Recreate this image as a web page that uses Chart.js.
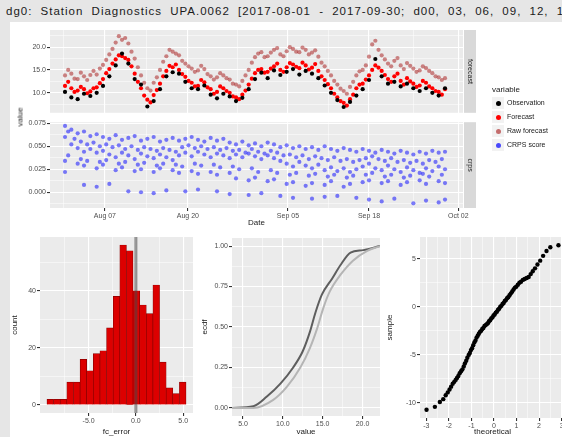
<!DOCTYPE html>
<html>
<head>
<meta charset="utf-8">
<script src="https://cdn.jsdelivr.net/npm/chart.js@4.4.1/dist/chart.umd.min.js"></script>
<style>
  body { margin: 0; width: 562px; height: 437px; overflow: hidden; position: relative;
         background: #e6e6e6; font-family: "Liberation Sans", Arial, sans-serif; }
  #sheet { position: absolute; left: 10px; top: 22px; width: 552px; height: 415px; background: #fff; }
  #title { position: absolute; left: 6px; top: 5px; font-size: 11.5px; letter-spacing: 1px; word-spacing: 4px;
           color: #1a1a1a; white-space: nowrap; }
  canvas { position: absolute; }
  #valueLab { position: absolute; left: 20px; top: 117px; font-size: 8px; color: #1a1a1a;
              transform: translate(-50%, -50%) rotate(-90deg); white-space: nowrap; }
  #legend { position: absolute; left: 492px; top: 85px; font-size: 7px; color: #1a1a1a; }
  #legend .lt { height: 10px; line-height: 10px; margin-bottom: 1px; font-size: 8px; }
  #legend .li { height: 14px; line-height: 14px; white-space: nowrap; }
  #legend .key { display: inline-block; width: 12px; height: 12px; background: #f2f2f2;
                 vertical-align: middle; position: relative; margin-right: 3px; }
  #legend .key i { position: absolute; left: 3.5px; top: 3.5px; width: 5px; height: 5px; border-radius: 2.5px; }
</style>
</head>
<body>
<div id="sheet"></div>
<div id="title">dg0: Station Diagnostics UPA.0062 [2017-08-01 - 2017-09-30; d00, 03, 06, 09, 12, 15, 18, 21]</div>
<canvas id="facetTop" width="552" height="96" style="left:10px;top:22px"></canvas>
<canvas id="facetBottom" width="552" height="111" style="left:10px;top:117px"></canvas>
<div id="valueLab">value</div>
<div id="legend">
  <div class="lt">variable</div>
  <div class="li"><span class="key"><i style="background:#000000"></i></span>Observation</div>
  <div class="li"><span class="key"><i style="background:#ff0000"></i></span>Forecast</div>
  <div class="li"><span class="key"><i style="background:rgba(165,20,20,0.6)"></i></span>Raw forecast</div>
  <div class="li"><span class="key"><i style="background:rgba(0,0,255,0.7)"></i></span>CRPS score</div>
</div>
<canvas id="histChart" width="190" height="209" style="left:10px;top:228px"></canvas>
<canvas id="ecdfChart" width="190" height="209" style="left:200px;top:228px"></canvas>
<canvas id="qqChart" width="190" height="209" style="left:385px;top:228px"></canvas>

<script>
// time axis: day index from 2017-08-01
const dateTickDays = [6.3, 19.4, 35.2, 48.0, 62.1];
const dateTickLabels = ['Aug 07', 'Aug 20', 'Sep 05', 'Sep 18', 'Oct 02'];

// observations, one per day
const observation = [
  10.2, 9.0, 8.6, 9.8, 9.3, 10.0, 11.5, 13.6, 16.0, 18.6,
  16.4, 13.0, 11.8, 7.0, 8.2, 10.8, 13.6, 14.5, 14.2, 12.4,
  11.0, 10.8, 11.6, 9.6, 8.8, 9.8, 9.2, 8.2, 8.9, 10.8,
  13.0, 14.4, 13.2, 14.9, 13.9, 14.6, 15.2, 14.0, 14.8, 14.2,
  13.2, 11.6, 10.0, 8.4, 6.9, 8.0, 9.4, 10.8, 12.8, 17.4,
  13.6, 12.0, 12.4, 11.4, 12.0, 11.0, 10.4, 11.0, 10.0, 9.4, 11.0
];

// forecasts, two per day
const forecast = [
  11.5, 12.4, 11.0, 10.2, 10.5, 11.3, 10.8, 9.9, 10.3, 11.0,
  11.2, 12.1, 13.0, 14.3, 15.2, 16.4, 17.3, 18.2, 18.0, 17.6,
  17.2, 15.8, 14.2, 12.4, 11.0, 9.4, 8.5, 7.9, 9.5, 10.6,
  12.0, 13.6, 14.8, 15.9, 15.6, 16.2, 15.0, 14.1, 13.5, 12.6,
  12.2, 11.4, 11.5, 12.8, 12.3, 11.2, 10.8, 9.8, 10.2, 11.4,
  11.0, 10.4, 10.0, 9.2, 9.0, 8.6, 9.6, 10.5, 11.8, 13.1,
  14.3, 15.0, 15.2, 14.4, 14.6, 15.3, 15.8, 16.4, 15.0, 14.6,
  15.6, 16.5, 16.2, 15.7, 15.4, 16.6, 16.0, 15.1, 15.5, 16.3,
  14.8, 13.6, 12.8, 11.9, 11.0, 9.8, 9.0, 8.2, 7.8, 7.2,
  8.6, 9.6, 11.0, 11.8, 12.0, 12.9, 13.8, 15.0, 16.0, 15.5,
  14.8, 13.9, 13.0, 12.4, 13.6, 14.2, 12.6, 11.8, 13.2, 12.5,
  12.0, 11.3, 11.6, 12.6, 12.2, 11.4, 11.0, 10.4, 10.2, 9.6, 10.8
];

const rawForecast = [
  13.8, 15.0, 14.2, 13.1, 13.0, 14.4, 13.6, 12.8, 13.9, 14.8,
  14.0, 15.3, 16.1, 17.2, 18.4, 19.6, 21.0, 22.4, 21.6, 22.0,
  20.8, 19.0, 17.5, 15.6, 13.8, 12.2, 11.0, 10.5, 12.2, 13.4,
  15.0, 16.8, 18.0, 19.4, 19.0, 18.6, 18.2, 17.0, 16.4, 15.8,
  15.3, 14.6, 14.9, 15.9, 15.2, 14.1, 13.6, 12.9, 13.4, 14.3,
  13.8, 13.2, 12.9, 12.0, 11.8, 11.4, 12.6, 13.8, 15.0, 16.6,
  17.8, 18.6, 18.9, 17.8, 18.0, 18.8, 19.4, 19.8, 18.4, 18.0,
  19.1, 20.0, 19.6, 19.0, 18.9, 19.9, 19.4, 18.4, 18.8, 19.3,
  17.9, 16.6, 15.8, 14.8, 13.8, 12.6, 11.8, 10.9, 10.4, 9.8,
  11.3, 12.4, 13.8, 14.7, 15.0, 16.0, 17.9, 20.6, 21.4, 19.4,
  18.2, 17.3, 16.4, 15.8, 17.0, 17.6, 16.0, 15.2, 16.5, 15.9,
  15.3, 14.6, 14.9, 15.8, 15.4, 14.8, 14.3, 13.6, 13.4, 12.8, 13.2
];

// lower facet: score rows, A-D on whole days, E-F on half days
const scoreRowA = [
  0.072, 0.068, 0.064, 0.066, 0.061, 0.063, 0.060, 0.058, 0.062, 0.057,
  0.059, 0.061, 0.056, 0.058, 0.060, 0.055, 0.057, 0.059, 0.056, 0.058,
  0.060, 0.057, 0.055, 0.059, 0.056, 0.058, 0.054, 0.052, 0.055, 0.051,
  0.053, 0.050, 0.054, 0.052, 0.049, 0.051, 0.048, 0.050, 0.047, 0.049,
  0.046, 0.050, 0.047, 0.045, 0.048, 0.046, 0.044, 0.047, 0.045, 0.043,
  0.046, 0.044, 0.042, 0.045, 0.043, 0.041, 0.044, 0.042, 0.045, 0.043, 0.044
];
const scoreRowB = [
  0.060, 0.052, 0.048, 0.044, 0.047, 0.043, 0.045, 0.041, 0.038, 0.043,
  0.040, 0.036, 0.042, 0.039, 0.037, 0.041, 0.038, 0.035, 0.040, 0.043,
  0.039, 0.044, 0.041, 0.038, 0.042, 0.040, 0.037, 0.041, 0.038, 0.042,
  0.039, 0.036, 0.040, 0.037, 0.034, 0.031, 0.028, 0.033, 0.029, 0.026,
  0.030, 0.024, 0.027, 0.023, 0.026, 0.022, 0.025, 0.028, 0.031, 0.026,
  0.024, 0.029, 0.025, 0.022, 0.027, 0.024, 0.021, 0.026, 0.023, 0.028, 0.025
];
const scoreRowC = [
  0.034, null, 0.031, 0.029, null, 0.026, 0.030, null, 0.024, 0.027,
  null, 0.023, 0.025, null, 0.022, 0.026, null, 0.024, 0.021, null,
  0.023, 0.020, null, 0.022, 0.019, null, 0.021, 0.015, null, 0.013,
  0.016, null, 0.012, 0.014, null, 0.009, 0.011, null, 0.007, 0.010,
  null, 0.008, 0.012, null, 0.006, 0.009, null, 0.011, 0.013, null,
  0.010, 0.012, null, 0.008, 0.011, null, 0.013, 0.009, null, 0.012, 0.010
];
const scoreRowD = [
  0.022, null, null, 0.008, null, 0.006, null, 0.009, null, null,
  0.001, null, 0.000, null, -0.001, null, 0.002, null, null, 0.001,
  null, 0.003, null, null, 0.001, null, -0.002, null, null, -0.003,
  null, -0.001, null, null, -0.004, null, -0.006, null, null, -0.007,
  null, -0.005, null, -0.004, null, null, -0.006, null, -0.008, null,
  -0.010, null, -0.007, null, null, -0.012, null, -0.009, null, -0.011, -0.008
];
const scoreRowE = [
  0.066, 0.058, 0.055, 0.052, 0.054, 0.050, 0.052, 0.049, 0.051, 0.047,
  0.050, 0.046, 0.049, 0.047, 0.045, 0.048, 0.046, 0.044, 0.049, 0.051,
  0.048, 0.050, 0.047, 0.049, 0.046, 0.048, 0.045, 0.046, 0.043, 0.047,
  0.044, 0.042, 0.045, 0.043, 0.040, 0.041, 0.038, 0.040, 0.036, 0.039,
  0.037, 0.035, 0.038, 0.034, 0.036, 0.033, 0.035, 0.037, 0.039, 0.036,
  0.034, 0.037, 0.033, 0.035, 0.032, 0.034, 0.031, 0.035, 0.033, 0.036
];
const scoreRowF = [
  0.040, null, 0.036, 0.034, null, 0.033, 0.035, null, 0.031, 0.033,
  null, 0.030, 0.032, null, 0.029, 0.031, null, 0.030, 0.028, null,
  0.031, 0.029, null, 0.030, 0.027, null, 0.028, 0.025, null, 0.026,
  0.022, null, 0.024, 0.021, null, 0.019, 0.021, null, 0.018, 0.020,
  null, 0.017, 0.019, null, 0.016, 0.018, null, 0.019, 0.021, null,
  0.017, 0.019, null, 0.016, 0.018, null, 0.020, 0.017, null, 0.019
];

// histogram of forecast error
const histStart = -9.4;
const histBinWidth = 0.7;
const histCounts = [2, 2, 2, 8, 8, 16, 12, 18, 19, 27, 38, 56, 54, 40, 35, 32, 42, 15, 6, 4, 8];

// ECDF curves
const ecdfObsX = [3.6, 6.3, 8.0, 9.7, 11.3, 12.5, 13.4, 14.1, 14.9, 16.2, 17.2, 18.5, 20.1, 22.2];
const ecdfObsY = [0, 0.01, 0.07, 0.15, 0.25, 0.35, 0.47, 0.59, 0.70, 0.80, 0.88, 0.96, 0.975, 1.0];
const ecdfFcX = [3.6, 6.3, 8.8, 10.5, 12.2, 13.4, 14.3, 15.1, 15.9, 17.2, 18.8, 20.6, 22.2];
const ecdfFcY = [0, 0, 0.05, 0.13, 0.25, 0.37, 0.49, 0.62, 0.72, 0.82, 0.91, 0.97, 1.0];

// normal QQ
const qqTheoretical = [
  -2.99, -2.62, -2.40, -2.25, -2.14, -2.05, -1.97, -1.90, -1.83, -1.76, -1.70, -1.64,
  -1.58, -1.52, -1.46, -1.40, -1.34, -1.29, -1.23, -1.18, -1.12, -1.07, -1.02, -0.97,
  -0.92, -0.87, -0.82, -0.77, -0.72, -0.67, -0.62, -0.57, -0.52, -0.47, -0.42, -0.37,
  -0.32, -0.27, -0.22, -0.17, -0.12, -0.07, -0.02, 0.03, 0.08, 0.13, 0.18, 0.23,
  0.28, 0.33, 0.38, 0.43, 0.48, 0.53, 0.58, 0.63, 0.69, 0.75, 0.81, 0.87,
  0.93, 0.99, 1.06, 1.13, 1.20, 1.28, 1.36, 1.45, 1.54, 1.63, 1.72, 1.82,
  1.93, 2.05, 2.18, 2.33, 2.50, 2.86
];
const qqSample = [
  -10.7, -10.4, -9.9, -9.6, -9.2, -8.9, -8.6, -8.3, -8.0, -7.8, -7.6, -7.4,
  -7.2, -6.9, -6.7, -6.5, -6.2, -5.9, -5.6, -5.3, -5.0, -4.8, -4.5, -4.3,
  -4.0, -3.7, -3.5, -3.2, -3.0, -2.8, -2.6, -2.5, -2.3, -2.2, -2.0, -1.9,
  -1.8, -1.7, -1.5, -1.4, -1.2, -1.1, -0.9, -0.8, -0.6, -0.5, -0.3, -0.2,
  0.0, 0.1, 0.3, 0.4, 0.6, 0.7, 0.9, 1.0, 1.2, 1.4, 1.6, 1.8,
  2.0, 2.1, 2.3, 2.5, 2.6, 2.8, 2.9, 3.0, 3.1, 3.4, 3.7, 4.0,
  4.4, 4.8, 5.3, 5.8, 6.2, 6.4
];

Chart.defaults.font.family = '"Liberation Sans", Arial, sans-serif';
Chart.defaults.font.size = 7;
Chart.defaults.color = '#4d4d4d';

const panelBg = {
  id: 'panelBg',
  beforeDraw(chart) {
    const { ctx, chartArea: a } = chart;
    ctx.save();
    ctx.fillStyle = '#ebebeb';
    ctx.fillRect(a.left, a.top, a.right - a.left, a.bottom - a.top);
    ctx.restore();
  }
};

const strip = {
  id: 'strip',
  afterDraw(chart, args, opts) {
    const { ctx, chartArea: a } = chart;
    ctx.save();
    ctx.fillStyle = '#d9d9d9';
    ctx.fillRect(a.right + 1, a.top, 12, a.bottom - a.top);
    ctx.translate(a.right + 7, (a.top + a.bottom) / 2);
    ctx.rotate(Math.PI / 2);
    ctx.fillStyle = '#1a1a1a';
    ctx.font = '7px "Liberation Sans", Arial, sans-serif';
    ctx.textAlign = 'center';
    ctx.textBaseline = 'middle';
    ctx.fillText(opts.text, 0, 0);
    ctx.restore();
  }
};

const zeroLine = {
  id: 'zeroLine',
  afterDatasetsDraw(chart) {
    const { ctx, chartArea: a, scales } = chart;
    const px = scales.x.getPixelForValue(0);
    ctx.save();
    ctx.strokeStyle = 'rgba(70,70,70,0.55)';
    ctx.lineWidth = 3;
    ctx.beginPath();
    ctx.moveTo(px, a.top);
    ctx.lineTo(px, a.bottom);
    ctx.stroke();
    ctx.restore();
  }
};

function midpoints(major, min, max) {
  const out = [];
  for (let i = 0; i < major.length - 1; i++) out.push((major[i] + major[i + 1]) / 2);
  const first = major[0] - (major[1] - major[0]) / 2;
  const last = major[major.length - 1] + (major[major.length - 1] - major[major.length - 2]) / 2;
  if (first >= min) out.push(first);
  if (last <= max) out.push(last);
  return out;
}

function ggScale(min, max, major, fmt, fit, title, showLabels = true) {
  const minor = midpoints(major, min, max);
  return {
    type: 'linear', min, max, offset: false,
    afterBuildTicks(s) {
      s.ticks = major.map(v => ({ value: v }))
        .concat(minor.map(v => ({ value: v, minor: true })))
        .sort((a, b) => a.value - b.value);
    },
    afterFit: fit,
    ticks: {
      display: showLabels, autoSkip: false, maxRotation: 0, padding: 1,
      color: '#4d4d4d', font: { size: 7 },
      callback: (v, i, t) => t[i].minor ? '' : fmt(v)
    },
    grid: {
      offset: false, color: '#ffffff', drawTicks: showLabels,
      lineWidth: c => (c.tick && c.tick.minor) ? 0.5 : 1.1,
      tickLength: 3,
      tickColor: c => (c.tick && c.tick.minor) ? 'rgba(0,0,0,0)' : '#333333'
    },
    border: { display: false },
    title: title ? { display: true, text: title, color: '#1a1a1a', font: { size: 8 }, padding: 0 } : { display: false }
  };
}

const baseOpts = { responsive: false, animation: false, events: [] };
const noPlug = { legend: { display: false }, tooltip: { enabled: false } };
const dayFmt = v => dateTickLabels[dateTickDays.indexOf(v)];

// top facet: observation / forecast / raw forecast
new Chart(document.getElementById('facetTop'), {
  type: 'scatter',
  data: {
    datasets: [
      { label: 'Observation', data: observation.map((v, d) => ({ x: d, y: v })),
        backgroundColor: '#000000', pointRadius: 2.1, borderWidth: 0 },
      { label: 'Forecast', data: forecast.map((v, i) => ({ x: i / 2, y: v })),
        backgroundColor: '#ff0000', pointRadius: 2.1, borderWidth: 0 },
      { label: 'Raw forecast', data: rawForecast.map((v, i) => ({ x: i / 2, y: v })),
        backgroundColor: 'rgba(165,20,20,0.5)', pointRadius: 2.1, borderWidth: 0 }
    ]
  },
  options: Object.assign({}, baseOpts, {
    layout: { padding: { top: 8, right: 99, bottom: 1, left: 0 } },
    plugins: Object.assign({}, noPlug, { strip: { text: 'forecast' } }),
    scales: {
      x: ggScale(-2.37, 62.84, dateTickDays, dayFmt, s => { s.height = 0; }, null, false),
      y: ggScale(5.625, 23.75, [10, 15, 20], v => v.toFixed(1), s => { s.width = 40; })
    }
  }),
  plugins: [panelBg, strip]
});

// bottom facet: score rows
const scorePts = [];
[scoreRowA, scoreRowB, scoreRowC, scoreRowD].forEach(row =>
  row.forEach((v, d) => { if (v !== null) scorePts.push({ x: d, y: v }); }));
[scoreRowE, scoreRowF].forEach(row =>
  row.forEach((v, d) => { if (v !== null) scorePts.push({ x: d + 0.5, y: v }); }));

new Chart(document.getElementById('facetBottom'), {
  type: 'scatter',
  data: {
    datasets: [
      { label: 'CRPS score', data: scorePts,
        backgroundColor: 'rgba(0,0,255,0.5)', pointRadius: 2.1, borderWidth: 0 }
    ]
  },
  options: Object.assign({}, baseOpts, {
    layout: { padding: { top: 4, right: 99, bottom: 0, left: 0 } },
    plugins: Object.assign({}, noPlug, { strip: { text: 'crps' } }),
    scales: {
      x: ggScale(-2.37, 62.84, dateTickDays, dayFmt, s => { s.height = 20; }, 'Date'),
      y: ggScale(-0.0171, 0.0761, [0, 0.025, 0.05, 0.075], v => v.toFixed(3), s => { s.width = 40; })
    }
  }),
  plugins: [panelBg, strip]
});

// histogram
new Chart(document.getElementById('histChart'), {
  type: 'bar',
  data: {
    datasets: [{
      data: histCounts.map((c, i) => ({ x: histStart + histBinWidth * (i + 0.5), y: c })),
      backgroundColor: '#dc0000', borderColor: '#8b0000', borderWidth: 0.7,
      barPercentage: 1, categoryPercentage: 1
    }]
  },
  options: Object.assign({}, baseOpts, {
    layout: { padding: { top: 9, right: 7, bottom: 0, left: 0 } },
    plugins: noPlug,
    scales: {
      x: ggScale(-10.135, 6.035, [-5, 0, 5], v => v.toFixed(1), s => { s.height = 24; }, 'fc_error'),
      y: ggScale(-2.8, 58.8, [0, 20, 40], v => String(v), s => { s.width = 30; }, 'count')
    }
  }),
  plugins: [panelBg, zeroLine]
});

// ECDF
new Chart(document.getElementById('ecdfChart'), {
  type: 'scatter',
  data: {
    datasets: [
      { data: ecdfFcX.map((x, i) => ({ x, y: ecdfFcY[i] })), showLine: true,
        borderColor: '#b5b5b5', borderWidth: 2, pointRadius: 0, cubicInterpolationMode: 'monotone' },
      { data: ecdfObsX.map((x, i) => ({ x, y: ecdfObsY[i] })), showLine: true,
        borderColor: '#5e5e5e', borderWidth: 2, pointRadius: 0, cubicInterpolationMode: 'monotone' }
    ]
  },
  options: Object.assign({}, baseOpts, {
    layout: { padding: { top: 10, right: 10, bottom: 0, left: 0 } },
    plugins: noPlug,
    scales: {
      x: ggScale(3.62, 22.2, [5, 10, 15, 20], v => v.toFixed(1), s => { s.height = 21; }, 'value'),
      y: ggScale(-0.05, 1.05, [0, 0.25, 0.5, 0.75, 1], v => v.toFixed(2), s => { s.width = 32; }, 'ecdf')
    }
  }),
  plugins: [panelBg]
});

// QQ plot
new Chart(document.getElementById('qqChart'), {
  type: 'scatter',
  data: {
    datasets: [
      { data: qqTheoretical.map((x, i) => ({ x, y: qqSample[i] })),
        backgroundColor: '#000000', pointRadius: 2.2, borderWidth: 0 }
    ]
  },
  options: Object.assign({}, baseOpts, {
    layout: { padding: { top: 9, right: 10, bottom: 0, left: 0 } },
    plugins: noPlug,
    scales: {
      x: ggScale(-3.28, 3.15, [-3, -2, -1, 0, 1, 2, 3], v => String(v), s => { s.height = 19; }, 'theoretical'),
      y: ggScale(-11.56, 7.26, [-10, -5, 0, 5], v => String(v), s => { s.width = 35; }, 'sample')
    }
  }),
  plugins: [panelBg]
});
</script>
</body>
</html>
